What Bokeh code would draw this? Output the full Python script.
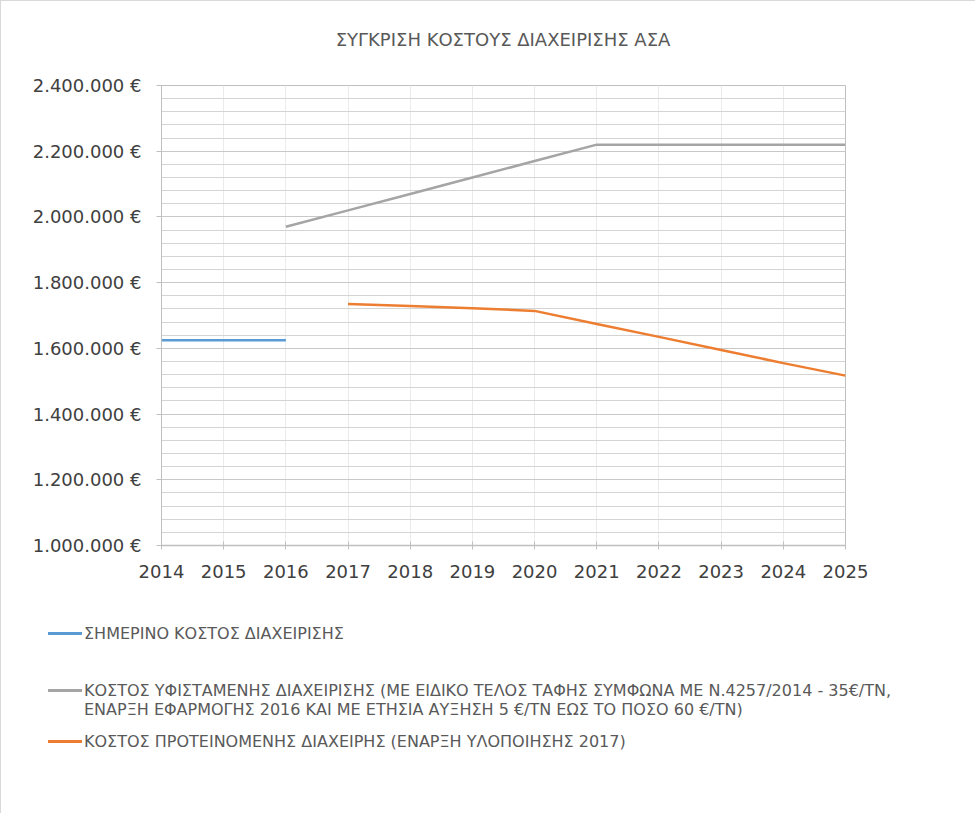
from bokeh.plotting import figure
from bokeh.layouts import column
from bokeh.models import Range1d, FixedTicker, Div
from bokeh.embed import file_html
from bokeh.resources import INLINE

# ---- data ----
years = [2014, 2015, 2016, 2017, 2018, 2019, 2020, 2021, 2022, 2023, 2024, 2025]

current_years = [2014, 2015, 2016]
current_cost = [1625000, 1625000, 1625000]

existing_years = [2016, 2017, 2018, 2019, 2020, 2021, 2022, 2023, 2024, 2025]
existing_cost = [1970000, 2020000, 2070000, 2120000, 2170000, 2220000, 2220000, 2220000, 2220000, 2220000]

proposed_years = [2017, 2018, 2019, 2020, 2021, 2022, 2023, 2024, 2025]
proposed_cost = [1735000, 1729000, 1722000, 1714000, 1674000, 1635000, 1595000, 1555000, 1517000]

y_ticks = [1000000, 1200000, 1400000, 1600000, 1800000, 2000000, 2200000, 2400000]
y_tick_labels = ["1.000.000 €", "1.200.000 €", "1.400.000 €", "1.600.000 €",
                 "1.800.000 €", "2.000.000 €", "2.200.000 €", "2.400.000 €"]

title_text = "ΣΥΓΚΡΙΣΗ ΚΟΣΤΟΥΣ ΔΙΑΧΕΙΡΙΣΗΣ ΑΣΑ"
legend_labels = [
    ["ΣΗΜΕΡΙΝΟ ΚΟΣΤΟΣ ΔΙΑΧΕΙΡΙΣΗΣ"],
    ["ΚΟΣΤΟΣ ΥΦΙΣΤΑΜΕΝΗΣ ΔΙΑΧΕΙΡΙΣΗΣ (ΜΕ ΕΙΔΙΚΟ ΤΕΛΟΣ ΤΑΦΗΣ ΣΥΜΦΩΝΑ ΜΕ Ν.4257/2014 -  35€/ΤΝ,",
     "ΕΝΑΡΞΗ ΕΦΑΡΜΟΓΗΣ 2016 ΚΑΙ ΜΕ ΕΤΗΣΙΑ ΑΥΞΗΣΗ 5 €/ΤΝ ΕΩΣ ΤΟ ΠΟΣΟ 60 €/ΤΝ)"],
    ["ΚΟΣΤΟΣ ΠΡΟΤΕΙΝΟΜΕΝΗΣ ΔΙΑΧΕΙΡΗΣ (ΕΝΑΡΞΗ ΥΛΟΠΟΙΗΣΗΣ 2017)"],
]
colors = ["#5B9BD5", "#A5A5A5", "#ED7D31"]

FONT = "DejaVu Sans"

# ---- title block ----
title_div = Div(
    text=('<div style="position:relative;width:974px;height:60px;">'
          '<div style="position:absolute;left:160px;width:684px;top:28px;text-align:center;'
          'font-family:\'DejaVu Sans\';font-size:18px;line-height:22px;color:#595959;white-space:nowrap;">'
          + title_text + '</div></div>'),
    width=974, height=60, margin=0)

p = figure(width=974, height=532,
           x_range=Range1d(2014, 2025), y_range=Range1d(1000000, 2400000),
           output_backend="svg", toolbar_location=None,
           min_border_left=160, min_border_right=130,
           min_border_top=24, min_border_bottom=48)

# x axis
p.xaxis.ticker = FixedTicker(ticks=years)
p.xaxis.major_label_overrides = {y: str(y) for y in years}
p.xaxis.major_label_text_font = FONT
p.xaxis.major_label_text_font_size = "18px"
p.xaxis.major_label_text_color = "#404040"
p.xaxis.axis_line_color = "#bfbfbf"
p.xaxis.axis_line_width = 1.5
p.xaxis.major_tick_line_color = "#bfbfbf"
p.xaxis.major_tick_in = 4
p.xaxis.major_tick_out = 4
p.xaxis.minor_tick_line_color = None
p.xaxis.major_label_standoff = 15

# y axis
minor = list(range(1000000, 2400001, 40000))
p.yaxis.ticker = FixedTicker(ticks=y_ticks, minor_ticks=minor)
p.yaxis.major_label_overrides = dict(zip(y_ticks, y_tick_labels))
p.yaxis.major_label_text_font = FONT
p.yaxis.major_label_text_font_size = "18px"
p.yaxis.major_label_text_color = "#404040"
p.yaxis.axis_line_color = "#bfbfbf"
p.yaxis.major_tick_line_color = "#bfbfbf"
p.yaxis.major_tick_in = 0
p.yaxis.major_tick_out = 5
p.yaxis.minor_tick_line_color = None
p.yaxis.major_label_standoff = 15

# grids
p.xgrid.grid_line_color = "#ebebeb"
p.ygrid.grid_line_color = "#c8c8c8"
p.ygrid.minor_grid_line_color = "#d4d4d4"
p.outline_line_color = "#bfbfbf"
p.background_fill_color = "white"
p.border_fill_color = "white"

series = [(current_years, current_cost), (existing_years, existing_cost), (proposed_years, proposed_cost)]
for (xs, ys), c in zip(series, colors):
    p.line(xs, ys, line_color=c, line_width=2.5)

# ---- legend block under the chart ----
entry_tops = [31, 88, 139]
parts = []
for lines, c, top in zip(legend_labels, colors, entry_tops):
    parts.append(
        f'<div style="position:absolute;left:47px;top:{top}px;white-space:nowrap;">'
        f'<span style="position:absolute;left:0;top:8px;width:34px;height:3px;background:{c};"></span>'
        f'<div style="margin-left:36px;font-family:\'DejaVu Sans\';font-size:16px;line-height:19px;color:#595959;">'
        + "<br>".join(lines) + '</div></div>')
legend_html = ('<div style="position:relative;width:974px;height:220px;">' + "".join(parts) + '</div>')
legend_div = Div(text=legend_html, width=974, height=220, margin=0)

layout = column(title_div, p, legend_div, spacing=0,
                styles={"border-left": "1px solid #d9d9d9", "border-top": "1px solid #d9d9d9"})

open("out.html", "w").write(file_html(layout, INLINE))
